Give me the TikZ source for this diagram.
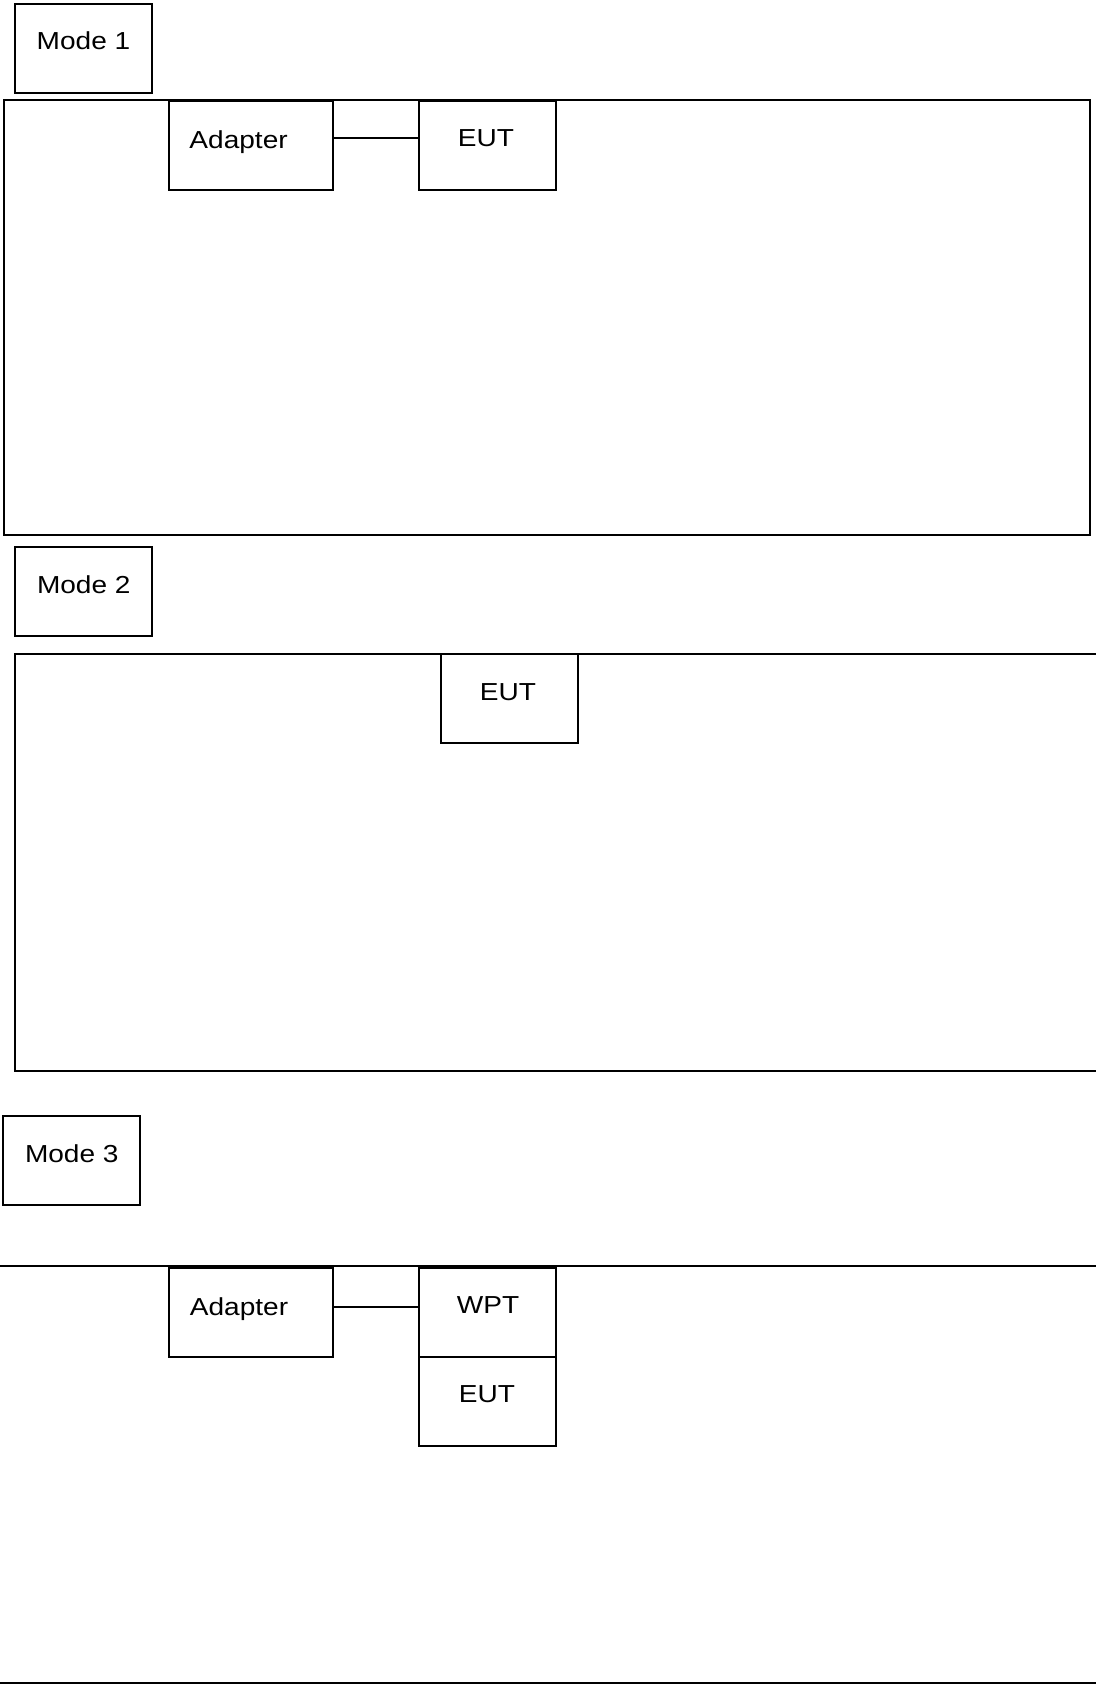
\documentclass[tikz,border=0pt]{standalone}
\usepackage{fontspec}
\setmainfont{Liberation Sans}
\newcommand\wtxt[1]{\scalebox{1.14}[1]{#1}}
\begin{document}
\begin{tikzpicture}[x=0.5pt,y=-0.5pt,
  box/.style={draw, line width=1pt, inner sep=0pt, outer sep=0pt},
  smallbox/.style={box, minimum width=68.5pt, minimum height=44.5pt},
  adbox/.style={box, minimum width=82pt, minimum height=44.5pt},
  lbl/.style={anchor=base, inner sep=0pt, font=\fontsize{12.3}{14}\selectfont},
  frame/.style={line width=1pt},
  wire/.style={line width=0.8pt}]
\useasboundingbox[fill=white] (0,0) rectangle (1096,1688);

% ---------- Mode 1 ----------
\node[smallbox] (m1) at (83.5,48.5) {};
\node[lbl] (m1t) at (83.5,49.3) {\wtxt{Mode 1}};
\draw[frame] (4,100) rectangle (1090,535);
\node[adbox] (ad1) at (251,145.5) {};
\node[lbl] (ad1t) at (238.6,148.3) {\wtxt{Adapter}};
\node[smallbox] (eut1) at (487.5,145.5) {};
\node[lbl] (eut1t) at (486,146.7) {\wtxt{EUT}};
\draw[wire] (ad1.east |- 0,138) -- (eut1.west |- 0,138);

% ---------- Mode 2 ----------
\node[smallbox] (m2) at (83.5,591) {};
\node[lbl] (m2t) at (83.8,593) {\wtxt{Mode 2}};
\draw[frame] (1100,654) -- (15,654) -- (15,1071) -- (1100,1071);
\node[smallbox] (eut2) at (509.5,698.5) {};
\node[lbl] (eut2t) at (508,700) {\wtxt{EUT}};

% ---------- Mode 3 ----------
\node[smallbox] (m3) at (71.75,1160) {};
\node[lbl] (m3t) at (71.8,1162.3) {\wtxt{Mode 3}};
\draw[frame] (-4,1266) -- (1100,1266);
\draw[frame] (-4,1683) -- (1100,1683);
\node[adbox] (ad3) at (251,1312.5) {};
\node[lbl] (ad3t) at (239,1315) {\wtxt{Adapter}};
\node[smallbox] (wpt) at (487.5,1312.5) {};
\node[lbl] (wptt) at (488,1313.3) {\wtxt{WPT}};
\node[smallbox] (eut3) at (487.5,1401) {};
\node[lbl] (eut3t) at (487,1402.7) {\wtxt{EUT}};
\draw[wire] (ad3.east |- 0,1306.7) -- (wpt.west |- 0,1306.7);
\end{tikzpicture}
\end{document}
